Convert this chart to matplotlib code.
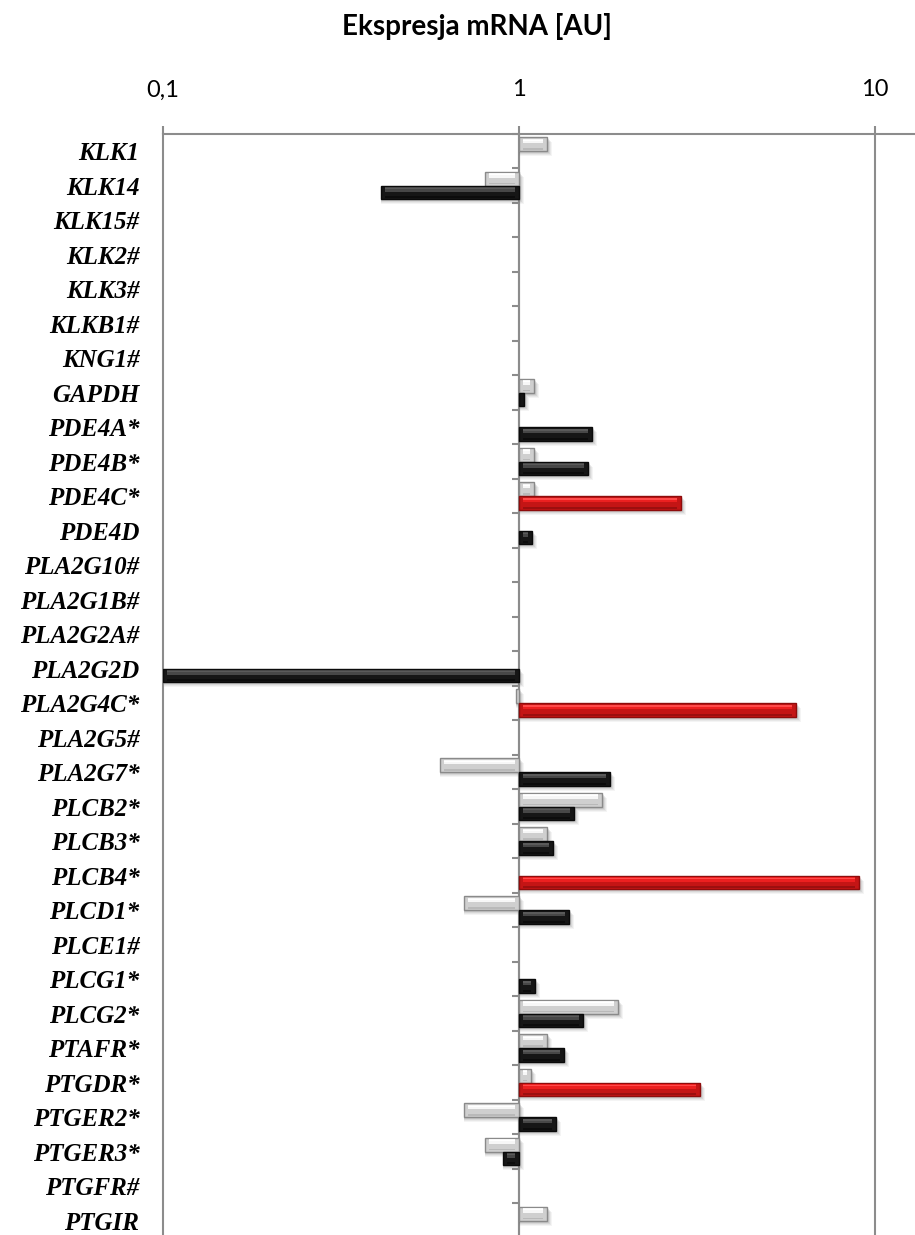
import numpy as np
import matplotlib
matplotlib.use("Agg")
import matplotlib.pyplot as plt
from matplotlib.ticker import FixedLocator, NullFormatter

# ---- data ---------------------------------------------------------------
genes = ["KLK1", "KLK14", "KLK15#", "KLK2#", "KLK3#", "KLKB1#", "KNG1#",
         "GAPDH", "PDE4A*", "PDE4B*", "PDE4C*", "PDE4D", "PLA2G10#",
         "PLA2G1B#", "PLA2G2A#", "PLA2G2D", "PLA2G4C*", "PLA2G5#", "PLA2G7*",
         "PLCB2*", "PLCB3*", "PLCB4*", "PLCD1*", "PLCE1#", "PLCG1*",
         "PLCG2*", "PTAFR*", "PTGDR*", "PTGER2*", "PTGER3*", "PTGFR#", "PTGIR"]

nan = np.nan
# first series (light bars)
series_a = [1.20, 0.80, nan, nan, nan, nan, nan,
            1.10, nan, 1.10, 1.10, nan, nan,
            nan, nan, nan, 0.98, nan, 0.60,
            1.71, 1.20, nan, 0.70, nan, nan,
            1.90, 1.20, 1.08, 0.70, 0.80, nan, 1.20]
# second series (dark bars, strongly raised genes in red)
series_b = [nan, 0.41, nan, nan, nan, nan, nan,
            1.035, 1.60, 1.56, 2.86, 1.085, nan,
            nan, nan, 0.10, 6.00, nan, 1.80,
            1.43, 1.25, 9.00, 1.38, nan, 1.11,
            1.51, 1.34, 3.22, 1.27, 0.90, nan, nan]
raised = ["PDE4C*", "PLA2G4C*", "PLCB4*", "PTGDR*"]

x_ticks = [0.1, 1, 10]
x_tick_labels = ["0,1", "1", "10"]
title = "Ekspresja mRNA [AU]"

# ---- figure / axes ------------------------------------------------------
W, H = 915, 1235
fig = plt.figure(figsize=(W / 100, H / 100), dpi=100)
ax_left, ax_right = 163 / W, 915 / W
ax_top, ax_bot = 1 - 133.8 / H, 1 - 1237.8 / H
ax = fig.add_axes([ax_left, ax_bot, ax_right - ax_left, ax_top - ax_bot])

px_per_decade = 356.0
x_max = 10 ** (np.log10(0.1) + (915 - 163) / px_per_decade)
ax.set_xscale("log")
ax.set_xlim(0.1, x_max)
n = len(genes)
ax.set_ylim(n - 0.5, -0.5)

grid_col = "#8c8c8c"
for s in ["right", "bottom"]:
    ax.spines[s].set_visible(False)
ax.spines["top"].set_color(grid_col)
ax.spines["top"].set_linewidth(1.5)
ax.spines["left"].set_color(grid_col)
ax.spines["left"].set_linewidth(1.5)

# value axis on top
ax.xaxis.tick_top()
ax.xaxis.set_major_locator(FixedLocator(x_ticks))
ax.xaxis.set_minor_locator(FixedLocator([]))
ax.set_xticklabels(x_tick_labels, fontsize=17, family="Lato")
ax.tick_params(axis="x", which="major", direction="out", length=6,
               width=1.5, color=grid_col, pad=18)
for xv in x_ticks[1:]:
    ax.axvline(xv, color=grid_col, lw=1.5, zorder=1)

# category labels
ypos = np.arange(n)
ax.set_yticks(ypos)
ax.set_yticklabels(genes, fontsize=18, family="Liberation Serif",
                   fontweight="bold", fontstyle="italic")
ax.tick_params(axis="y", which="major", length=0, pad=17)

# category axis crossing at 1 with boundary tick marks
loc_one = (np.log10(1) - np.log10(0.1)) / (np.log10(x_max) - np.log10(0.1))
sec = ax.secondary_yaxis(loc_one)
sec.spines["left"].set_color(grid_col)
sec.spines["left"].set_linewidth(1.5)
sec.set_yticks(np.arange(n + 1) - 0.5)
sec.yaxis.set_major_formatter(NullFormatter())
sec.tick_params(axis="y", direction="out", length=5, width=1.5,
                color=grid_col)

# ---- bevelled bars ------------------------------------------------------
bar_h = 0.40
inset = 10 ** (4 / px_per_decade)   # ~4 px bevel in log space
px = 1 / 34.5                        # one pixel in category units

styles = {
    "light": dict(base="#cfcfcf", edge="#8a8a8a", band="#f7f7f7",
                  glint="#ffffff", low="#b9b9b9"),
    "dark": dict(base="#161616", edge="#0a0a0a", band="#474747",
                 glint="#5a5a5a", low="#0c0c0c"),
    "red": dict(base="#c41515", edge="#8e0c0c", band="#ec2020",
                glint="#ff4a4a", low="#9c0f0f"),
}


def bevel_bar(y, value, kind):
    if not np.isfinite(value):
        return
    st = styles[kind]
    lo, hi = min(1.0, value), max(1.0, value)
    # soft drop shadow
    for k, a in [(5, 0.08), (4, 0.10), (3, 0.14), (2, 0.18)]:
        ax.barh(y + k * px, hi * 10 ** (k / px_per_decade) - lo, left=lo,
                height=bar_h, color="#7a7a7a", alpha=a, lw=0, zorder=2)
    ax.barh(y, hi - lo, left=lo, height=bar_h, color=st["base"],
            edgecolor=st["edge"], lw=1.0, zorder=3)
    if hi / lo > inset ** 2.2:
        l2, h2 = lo * inset, hi / inset
        top = y - bar_h / 2
        ax.barh(top + 0.28 * bar_h, h2 - l2, left=l2, height=0.32 * bar_h,
                color=st["band"], lw=0, zorder=4)
        ax.barh(top + 0.22 * bar_h, h2 - l2, left=l2, height=0.10 * bar_h,
                color=st["glint"], lw=0, zorder=4)
        ax.barh(top + 0.85 * bar_h, h2 - l2, left=l2, height=0.14 * bar_h,
                color=st["low"], lw=0, zorder=4)


for i, g in enumerate(genes):
    bevel_bar(i - bar_h / 2, series_a[i], "light")
    bevel_bar(i + bar_h / 2, series_b[i], "red" if g in raised else "dark")

fig.text(477 / W, 1 - 26 / H, title, ha="center", va="center",
         fontsize=20, family="Lato", fontweight="bold")

fig.savefig("out.png", dpi=100)
